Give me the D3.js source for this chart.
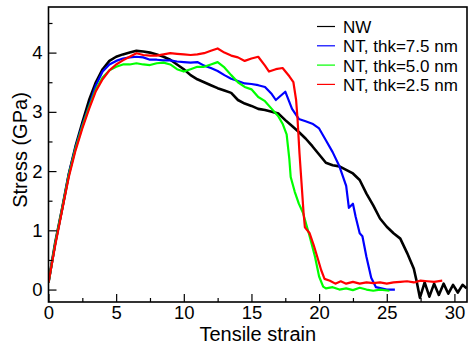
<!DOCTYPE html>
<meta charset="UTF-8">
<style>
    body { margin: 0; background: #fff; }
    text { font-family: "Liberation Sans", Arial, sans-serif; }
</style>
<body>
<div id="chart"></div>
<script src="https://d3js.org/d3.v7.min.js"></script>
<script>

// series names as in the legend
var seriesNames = ["NW", "NT, thk=7.5 nm", "NT, thk=5.0 nm", "NT, thk=2.5 nm"];
var seriesColors = ["#000000", "#0000ff", "#00ff00", "#ff0000"];

// NW
var strainNW = [0, 0.5, 1, 1.5, 2, 2.5, 3, 3.5, 4, 4.5, 5, 5.5, 6, 6.5, 7, 7.5, 8, 8.5, 9, 9.5,
    10, 10.5, 11, 11.5, 12, 12.5, 13, 13.5, 14, 14.5, 15, 15.5, 16, 16.5, 17, 17.5, 18, 18.5, 19, 19.5,
    20, 20.5, 21, 21.5, 22, 22.5, 23, 23.5, 24, 24.5, 25, 25.5, 26, 26.5, 27, 27.2, 27.45,
    27.8, 28.15, 28.5, 28.85, 29.2, 29.55, 29.9, 30.25, 30.6, 30.9];
var stressNW = [0.12, 0.8, 1.36, 1.95, 2.42, 2.82, 3.2, 3.5, 3.72, 3.86, 3.93, 3.97, 4.0, 4.03, 4.02, 4.0, 3.97, 3.93, 3.88, 3.8,
    3.72, 3.62, 3.55, 3.5, 3.45, 3.4, 3.36, 3.32, 3.2, 3.14, 3.1, 3.05, 3.03, 3.0, 2.97, 2.86, 2.76, 2.66, 2.55, 2.42,
    2.28, 2.14, 2.1, 2.08, 2.02, 1.96, 1.85, 1.62, 1.42, 1.2, 1.06, 0.95, 0.86, 0.62, 0.35, 0.15, -0.14,
    0.12, -0.12, 0.1, -0.09, 0.1, -0.07, 0.08, -0.05, 0.08, 0.02];

// NT, thk=7.5 nm
var strainT75 = [0, 0.5, 1, 1.5, 2, 2.5, 3, 3.5, 4, 4.5, 5, 5.5, 6, 6.5, 7, 7.5, 8, 8.5, 9, 9.5,
    10, 10.5, 11, 11.5, 12, 12.5, 13, 13.5, 14, 14.5, 15, 15.5, 16, 16.5, 16.8, 17.5, 18, 18.5, 19, 19.5,
    20, 20.5, 21, 21.5, 22, 22.2, 22.5, 22.7, 23, 23.2, 23.5, 23.85, 24.2, 24.6, 25, 25.6];
var stressT75 = [0.12, 0.78, 1.35, 1.95, 2.4, 2.78, 3.1, 3.45, 3.68, 3.8, 3.86, 3.9, 3.92, 3.93, 3.92, 3.88, 3.88, 3.87, 3.87, 3.85,
    3.84, 3.83, 3.84, 3.78, 3.74, 3.69, 3.62, 3.56, 3.52, 3.48, 3.47, 3.45, 3.42, 3.3, 3.2, 3.34, 3.05, 2.88, 2.84, 2.8,
    2.72, 2.52, 2.32, 2.08, 1.75, 1.38, 1.45, 1.23, 0.95, 0.9, 0.55, 0.2, 0.04, 0.02, 0.0, 0.0];

// NT, thk=5.0 nm
var strainT50 = [0, 0.5, 1, 1.5, 2, 2.5, 3, 3.5, 4, 4.5, 5, 5.5, 6, 6.5, 7, 7.5, 8, 8.5, 9, 9.5,
    10, 10.5, 11, 11.5, 12, 12.5, 13, 13.5, 14, 14.5, 15, 15.5, 16, 16.5, 17, 17.3, 17.6, 17.8, 17.9, 18.2,
    18.5, 18.8, 19.3, 19.7, 20, 20.3, 20.5, 21, 21.5, 22, 22.5, 23, 23.5, 24, 24.5, 25.2];
var stressT50 = [0.12, 0.78, 1.35, 1.93, 2.38, 2.75, 3.08, 3.38, 3.58, 3.7, 3.76, 3.8, 3.8, 3.82, 3.8, 3.79, 3.82, 3.83, 3.8, 3.72,
    3.68, 3.72, 3.76, 3.76, 3.8, 3.84, 3.75, 3.62, 3.5, 3.42, 3.38, 3.25, 3.18, 3.05, 2.92, 2.8, 2.62, 2.2, 1.9, 1.65,
    1.45, 1.3, 0.9, 0.55, 0.22, 0.05, 0.02, 0.04, 0.0, 0.02, -0.01, 0.03, 0.0, -0.02, 0.0, -0.02];

// NT, thk=2.5 nm
var strainT25 = [0, 0.5, 1, 1.5, 2, 2.5, 3, 3.5, 4, 4.5, 5, 5.5, 6, 6.5, 7, 7.5, 8, 8.5, 9, 9.5,
    10, 10.5, 11, 11.5, 12, 12.5, 13, 13.5, 14, 14.5, 15, 15.5, 16, 16.3, 16.8, 17.3, 17.8, 18.1, 18.3, 18.4,
    18.55, 18.7, 18.85, 18.95, 19.3, 19.6, 19.8, 20.15, 20.4, 20.8, 21.2, 21.6, 22, 22.5, 23, 23.5, 24, 24.5,
    25, 25.5, 26, 26.5, 27, 27.5, 28, 28.5, 29.1];
var stressT25 = [0.12, 0.75, 1.33, 1.9, 2.35, 2.72, 3.05, 3.35, 3.55, 3.7, 3.8, 3.87, 3.93, 3.99, 3.96, 3.95, 3.95, 3.97, 3.99, 3.98,
    3.97, 3.96, 3.97, 3.99, 4.03, 4.07, 4.0, 3.95, 3.92, 3.86, 3.9, 3.93, 3.78, 3.68, 3.72, 3.74, 3.6, 3.5, 3.2, 2.9,
    2.3, 1.8, 1.3, 1.05, 0.95, 0.75, 0.6, 0.33, 0.18, 0.15, 0.1, 0.14, 0.1, 0.13, 0.1, 0.12, 0.11, 0.12,
    0.1, 0.12, 0.13, 0.14, 0.12, 0.15, 0.14, 0.13, 0.15];

// axis ticks
var xTicks = [0, 5, 10, 15, 20, 25, 30];
var xMinor = [2.5, 7.5, 12.5, 17.5, 22.5, 27.5];
var yTicks = [0, 1, 2, 3, 4];
var yMinor = [0.5, 1.5, 2.5, 3.5, 4.5];

var strains = [strainNW, strainT75, strainT50, strainT25];
var stresses = [stressNW, stressT75, stressT50, stressT25];

var series = seriesNames.map(function(name, i) {
    return {
        name: name,
        color: seriesColors[i],
        values: strains[i].map(function(s, j) { return {strain: s, stress: stresses[i][j]}; })
    };
});

var width = 470, height = 344;
var plot = {left: 48.5, right: 467, top: 7, bottom: 302};

var svg = d3.select("#chart").append("svg")
    .attr("width", width)
    .attr("height", height);

var x = d3.scaleLinear().domain([0, 30.93]).range([plot.left, plot.right]);
var y = d3.scaleLinear().domain([-0.21, 4.77]).range([plot.bottom, plot.top]);

svg.append("clipPath").attr("id", "clip")
  .append("rect")
    .attr("x", plot.left).attr("y", plot.top)
    .attr("width", plot.right - plot.left).attr("height", plot.bottom - plot.top);

var line = d3.line()
    .x(function(d) { return x(d.strain); })
    .y(function(d) { return y(d.stress); });

// curves, red on top
svg.append("g")
    .attr("clip-path", "url(#clip)")
  .selectAll("path")
    .data(series)
  .enter().append("path")
    .attr("d", function(d) { return line(d.values); })
    .attr("fill", "none")
    .attr("stroke", function(d) { return d.color; })
    .attr("stroke-width", function(d, i) { return i == 0 ? 2.6 : 2.2; })
    .attr("stroke-linejoin", "round");

// x axis: inward ticks
svg.append("g")
    .attr("transform", "translate(0," + plot.bottom + ")")
    .call(d3.axisBottom(x).tickValues(xTicks).tickSize(-8).tickPadding(4).tickFormat(d3.format("d")));
svg.append("g")
    .attr("transform", "translate(0," + plot.bottom + ")")
    .call(d3.axisBottom(x).tickValues(xMinor).tickSize(-4).tickFormat(""));

// y axis: inward ticks
svg.append("g")
    .attr("transform", "translate(" + plot.left + ",0)")
    .call(d3.axisLeft(y).tickValues(yTicks).tickSize(-8).tickPadding(6).tickFormat(d3.format("d")));
svg.append("g")
    .attr("transform", "translate(" + plot.left + ",0)")
    .call(d3.axisLeft(y).tickValues(yMinor).tickSize(-4).tickFormat(""));

svg.selectAll(".domain").remove();
svg.selectAll(".tick line").attr("stroke", "#000").attr("stroke-width", 1.2);
svg.selectAll(".tick text")
    .attr("font-size", 18.5)
    .attr("font-family", "Liberation Sans, Arial, sans-serif")
    .attr("fill", "#000");

// frame
svg.append("rect")
    .attr("x", plot.left).attr("y", plot.top)
    .attr("width", plot.right - plot.left).attr("height", plot.bottom - plot.top)
    .attr("fill", "none")
    .attr("stroke", "#000")
    .attr("stroke-width", 1.6);

// axis labels
svg.append("text")
    .attr("x", (plot.left + plot.right) / 2)
    .attr("y", 341)
    .attr("text-anchor", "middle")
    .attr("font-size", 20)
    .text("Tensile strain");

svg.append("text")
    .attr("transform", "translate(27,150) rotate(-90)")
    .attr("text-anchor", "middle")
    .attr("font-size", 20)
    .text("Stress (GPa)");

// legend
var legend = svg.append("g")
  .selectAll("g")
    .data(series)
  .enter().append("g")
    .attr("transform", function(d, i) { return "translate(317," + (33 + i * 19.3) + ")"; });

legend.append("line")
    .attr("x1", 0).attr("x2", 18)
    .attr("y1", -6.5).attr("y2", -6.5)
    .attr("stroke", function(d) { return d.color; })
    .attr("stroke-width", 1.2);

legend.append("text")
    .attr("x", 26)
    .attr("font-size", 17)
    .text(function(d) { return d.name; });

</script>
</body>
